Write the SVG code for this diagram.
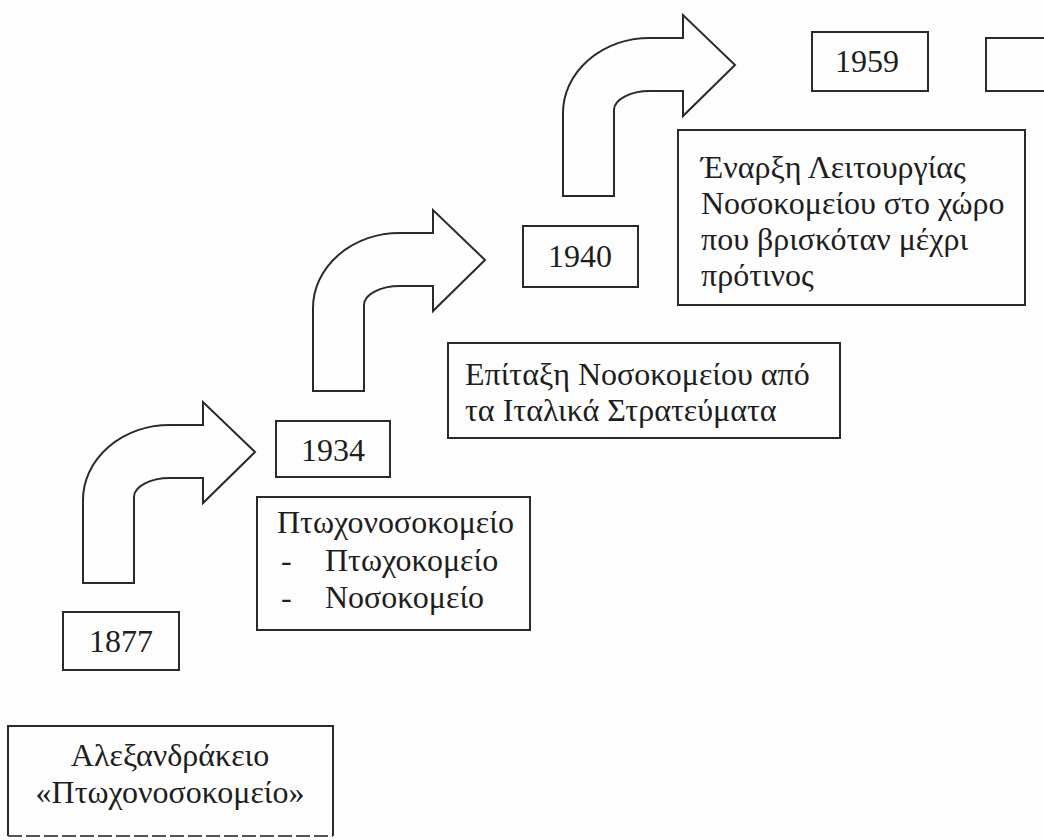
<svg xmlns="http://www.w3.org/2000/svg" width="1044" height="840" viewBox="0 0 1044 840">
  <style>
    .box { fill: none; stroke: #2a2a2a; stroke-width: 2; }
    .arrow { fill: #fefefe; stroke: #2a2a2a; stroke-width: 2; stroke-linejoin: miter; }
    text { font-family: "Liberation Serif", "Times New Roman", serif; font-size: 32px; fill: #1e1e1e; }
    .mid { text-anchor: middle; }
  </style>
  <defs>
    <!-- bent "turn right" arrow, origin at bottom-left corner of the shaft -->
    <path id="bend" d="M0,0 V-83 A87,75 0 0 1 87,-158 H120 V-181 L172,-131 L120,-80 V-105 H87 A36,19 0 0 0 51,-86 V0 Z"/>
  </defs>

  <rect width="1044" height="840" fill="#fdfdfd"/>

  <g id="connectors">
    <use href="#bend" class="arrow" x="83" y="583"/>
    <use href="#bend" class="arrow" x="313" y="391"/>
    <use href="#bend" class="arrow" x="563" y="196"/>
  </g>

  <g id="node-alexandrakeio">
    <path class="box" d="M8,836 V726 H333 V836"/>
    <line x1="8" y1="836" x2="333" y2="836" stroke="#555" stroke-width="2" stroke-dasharray="14 4"/>
    <text class="mid" x="170" y="766">Αλεξανδράκειο</text>
    <text class="mid" x="170" y="803">«Πτωχονοσοκομείο»</text>
  </g>

  <g id="node-1877">
    <rect class="box" x="63" y="612" width="116" height="58"/>
    <text class="mid" x="121" y="652">1877</text>
  </g>

  <g id="node-1934">
    <rect class="box" x="276" y="421" width="114" height="56"/>
    <text class="mid" x="333" y="461">1934</text>
  </g>

  <g id="node-ptochonosokomeio">
    <rect class="box" x="257" y="497" width="273" height="133"/>
    <text x="277" y="533">Πτωχονοσοκομείο</text>
    <text x="281" y="571">-</text>
    <text x="325" y="571">Πτωχοκομείο</text>
    <text x="281" y="608">-</text>
    <text x="325" y="608">Νοσοκομείο</text>
  </g>

  <g id="node-1940">
    <rect class="box" x="523" y="226" width="115" height="61"/>
    <text class="mid" x="580" y="267">1940</text>
  </g>

  <g id="node-epitaxi">
    <rect class="box" x="448" y="343" width="392" height="95"/>
    <text x="465" y="385">Επίταξη Νοσοκομείου από</text>
    <text x="465" y="421">τα Ιταλικά Στρατεύματα</text>
  </g>

  <g id="node-1959">
    <rect class="box" x="812" y="32" width="116" height="59"/>
    <text class="mid" x="867" y="72">1959</text>
  </g>

  <g id="node-next">
    <path class="box" d="M1045,38 H986 V91 H1045"/>
  </g>

  <g id="node-enarxi">
    <rect class="box" x="678" y="130" width="347" height="175"/>
    <text x="701" y="178">Έναρξη Λειτουργίας</text>
    <text x="701" y="214">Νοσοκομείου στο χώρο</text>
    <text x="701" y="250">που βρισκόταν μέχρι</text>
    <text x="701" y="286">πρότινος</text>
  </g>
</svg>
